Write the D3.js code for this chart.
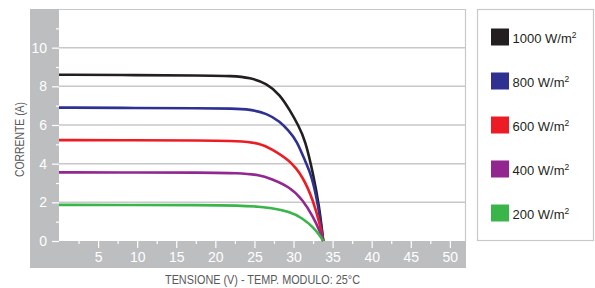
<!DOCTYPE html>
<html><head><meta charset="utf-8">
<script src="https://cdn.jsdelivr.net/npm/d3@7"></script>
<style>body{margin:0;background:#fff}svg{display:block}</style>
</head><body><svg id="c" width="595" height="288"></svg>
<script>
const legendLabels = ["1000 W/m", "800 W/m", "600 W/m", "400 W/m", "200 W/m"];
const colors = ["#231f20", "#2e3192", "#ed1c24", "#92278f", "#39b54a"];
const xTicks = [5, 10, 15, 20, 25, 30, 35, 40, 45, 50];
const yTicks = [0, 2, 4, 6, 8, 10];
const v1000 = [0, 10, 18, 22.3, 24.4, 26.6, 28.3, 29.5, 30.6, 31.5, 32.5, 33.3, 33.8];
const i1000 = [8.6, 8.58, 8.56, 8.54, 8.45, 8.16, 7.55, 6.78, 6.0, 5.22, 3.5, 1.78, 0];
const v800 = [0, 10, 18, 22.3, 24.4, 26.6, 28.3, 29.3, 30.4, 31.6, 32.3, 33.2, 33.8];
const i800 = [6.9, 6.88, 6.87, 6.85, 6.81, 6.6, 6.17, 5.74, 5.22, 4.02, 3.4, 1.78, 0];
const vLow = [0, 10, 18, 23.1, 25.7, 27, 29.5, 31.2, 32.5, 33.4, 33.8];
const i600 = [5.22, 5.21, 5.2, 5.18, 5.05, 4.8, 4.19, 3.33, 2.12, 0.83, 0];
const i400 = [3.55, 3.54, 3.54, 3.52, 3.41, 3.24, 2.81, 2.12, 1.26, 0.48, 0];
const i200 = [1.87, 1.86, 1.86, 1.84, 1.77, 1.72, 1.52, 1.17, 0.71, 0.27, 0];

const series = [[v1000, i1000], [v800, i800], [vLow, i600], [vLow, i400], [vLow, i200]];

const svg = d3.select("#c");
const L = 59, R = 465.5, T = 9, B = 241;
const x = d3.scaleLinear().domain([0, 52]).range([L, R]);
const y = d3.scaleLinear().domain([0, 12]).range([B, T]);
const grey = "#bcbec0";

// grey frame
svg.append("rect").attr("x", 30).attr("y", T).attr("width", L - 30).attr("height", 268 - T).attr("fill", grey);
svg.append("rect").attr("x", 30).attr("y", B).attr("width", R - 30 + 0.5).attr("height", 268 - B).attr("fill", grey);
// plot border top/right
svg.append("path").attr("d", `M${L},${T + 0.5}H${R}V${B}`).attr("fill", "none").attr("stroke", "#c7c8ca").attr("stroke-width", 1.2);

// gridlines
svg.append("g").selectAll("line").data(yTicks.filter(d => d > 0)).join("line")
  .attr("x1", L).attr("x2", R).attr("y1", d => y(d)).attr("y2", d => y(d))
  .attr("stroke", "#c7c8ca").attr("stroke-width", 1.5);

// y axis
const yAxis = d3.axisLeft(y).tickValues(yTicks).tickSize(7).tickPadding(5).tickFormat(d3.format("d"));
const gy = svg.append("g").attr("transform", `translate(${L},0)`).call(yAxis);
gy.select(".domain").remove();
gy.selectAll("line").attr("stroke", "#fff").attr("stroke-width", 1.2);
gy.selectAll("text").attr("fill", "#fff").style("font", "14px 'Liberation Sans', Arial, sans-serif");
const gym = svg.append("g").attr("transform", `translate(${L},0)`)
  .call(d3.axisLeft(y).tickValues(d3.range(1, 12, 2)).tickSize(3).tickFormat(""));
gym.select(".domain").remove();
gym.selectAll("line").attr("stroke", "#fff").attr("stroke-width", 1.2);

// x axis
const gx = svg.append("g").attr("transform", `translate(0,${B})`)
  .call(d3.axisBottom(x).tickValues(xTicks).tickSize(7).tickPadding(4));
gx.select(".domain").remove();
gx.selectAll("line").attr("stroke", "#fff").attr("stroke-width", 1.2);
gx.selectAll("text").attr("fill", "#fff").style("font", "14px 'Liberation Sans', Arial, sans-serif");
const gxm = svg.append("g").attr("transform", `translate(0,${B})`)
  .call(d3.axisBottom(x).tickValues(d3.range(2.5, 51, 5)).tickSize(3).tickFormat(""));
gxm.select(".domain").remove();
gxm.selectAll("line").attr("stroke", "#fff").attr("stroke-width", 1.2);

// curves
const line = d3.line().x(d => x(d[0])).y(d => y(d[1])).curve(d3.curveBasis);
series.forEach((s, k) => {
  const pts = s[0].map((v, i) => [v, s[1][i]]);
  svg.append("path").attr("d", line(pts)).attr("fill", "none")
    .attr("stroke", colors[k]).attr("stroke-width", 2.6).attr("stroke-linejoin", "round");
});

// axis titles
svg.append("text").attr("transform", `translate(24,139.5) rotate(-90)`).attr("text-anchor", "middle")
  .attr("fill", "#58595b").style("font", "12.5px 'Liberation Sans', Arial, sans-serif")
  .attr("textLength", 75).attr("lengthAdjust", "spacingAndGlyphs")
  .text("CORRENTE (A)");
svg.append("text").attr("x", 262.5).attr("y", 284).attr("text-anchor", "middle")
  .attr("fill", "#58595b").style("font", "13px 'Liberation Sans', Arial, sans-serif")
  .attr("textLength", 195).attr("lengthAdjust", "spacingAndGlyphs")
  .text("TENSIONE (V) - TEMP. MODULO: 25°C");

// legend
svg.append("rect").attr("x", 477.5).attr("y", 9.5).attr("width", 116).attr("height", 231)
  .attr("fill", "#fff").attr("stroke", "#c7c8ca").attr("stroke-width", 1.2);
const lg = svg.append("g").selectAll("g").data(legendLabels).join("g")
  .attr("transform", (d, i) => `translate(491,${28.5 + i * 44})`);
lg.append("rect").attr("width", 18).attr("height", 17).attr("fill", (d, i) => colors[i]);
const lt = lg.append("text").attr("x", 21.5).attr("y", 14).attr("fill", "#231f20")
  .style("font", "13px 'Liberation Sans', Arial, sans-serif");
lt.append("tspan").text(d => d);
lt.append("tspan").attr("dy", -5).style("font-size", "8.5px").text("2");
</script></body></html>
